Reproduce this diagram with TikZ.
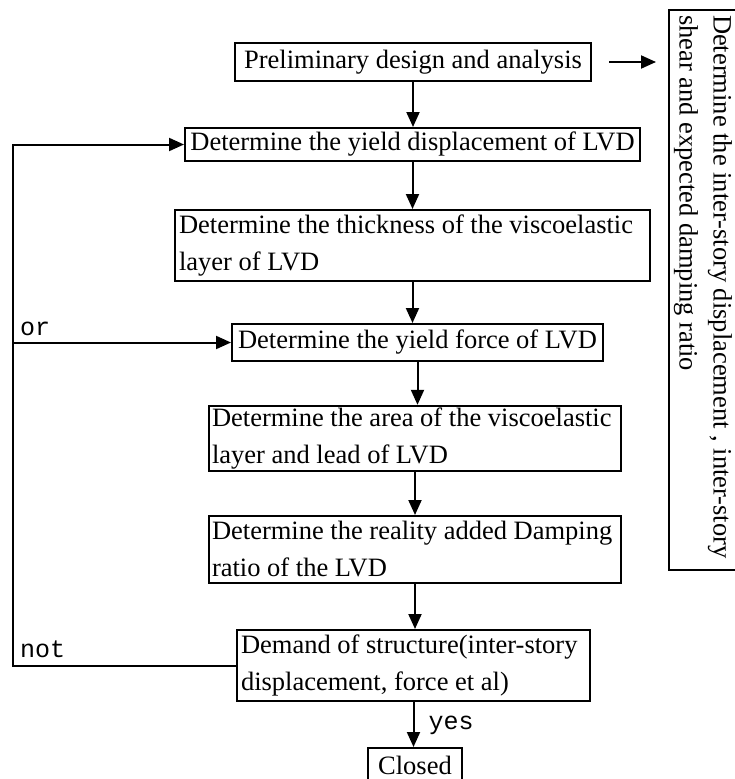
\documentclass[tikz,border=0pt]{standalone}
\usepackage{fontspec}
\setmainfont{Liberation Serif}
\newfontfamily\lblfont{Liberation Mono}
\usetikzlibrary{arrows.meta,calc}

\begin{document}
\begin{tikzpicture}[x=1pt, y=-1pt,
  box/.style={draw, line width=2pt, inner xsep=2pt, inner ysep=2pt, font=\fontsize{26.5}{37}\selectfont},
  twoline/.style={box, align=flush left},
  arr/.style={line width=2pt, -{Triangle[length=15pt,width=13pt]}},
  lbl/.style={font=\lblfont\fontsize{25}{30}\selectfont, inner sep=0pt}]
\useasboundingbox (0,0) rectangle (734,779);

%main column
\node[box, minimum width=356, minimum height=38] (pre) at (413,62) {Preliminary design and analysis};
\node[box, minimum width=455, minimum height=33] (yd) at (412.5,144.5) {Determine the yield displacement of LVD};
\node[twoline, minimum width=475, minimum height=71, text width=467] (thk) at (412.5,245.5) {Determine the thickness of the viscoelastic\\layer of LVD};
\node[box, minimum width=371, minimum height=37] (yf) at (417.5,342.5) {Determine the yield force of LVD};
\node[twoline, minimum width=412, minimum height=65, text width=406] (area) at (415,438.5) {Determine the area of the viscoelastic\\layer and lead of LVD};
\node[twoline, minimum width=412, minimum height=67, text width=406] (damp) at (415,549.5) {Determine the reality added Damping\\ratio of the LVD};
\node[twoline, minimum width=353, minimum height=71, text width=345] (dem) at (413.5,665.5) {Demand of structure(inter-story\\displacement, force et al)};
\node[box, minimum width=94, minimum height=34] (cls) at (415,765) {Closed};

%side box
\node[twoline, rotate=-90, minimum width=560, minimum height=68, text width=550, inner xsep=5pt,
  font=\fontsize{26.5}{34}\selectfont] (side) at (703,290)
  {Determine the inter-story displacement , inter-story\\shear and expected damping ratio};

%arrows down
\foreach \a/\b in {pre/yd, yd/thk, thk/yf, yf/area, area/damp, damp/dem, dem/cls}
  \draw[arr] (\a.south) -- (\a.south |- \b.north);
\node[lbl, anchor=base west] (yes) at ([xshift=15pt, yshift=-27pt]dem.south) {yes};

\draw[arr] ([xshift=17pt]pre.east) -- ($(pre.east -| side.south)+(-12,0)$);

%feedback
\coordinate (lft) at (13,0);
\draw[arr] (dem.west) -- (dem.west -| lft) node[lbl, anchor=base west, xshift=6pt, yshift=8pt] (not) {not} |- (yd.west);
\draw[arr] (yf.west -| lft) node[lbl, anchor=base west, xshift=6pt, yshift=7pt] (or) {or} -- (yf.west);
\end{tikzpicture}
\end{document}
